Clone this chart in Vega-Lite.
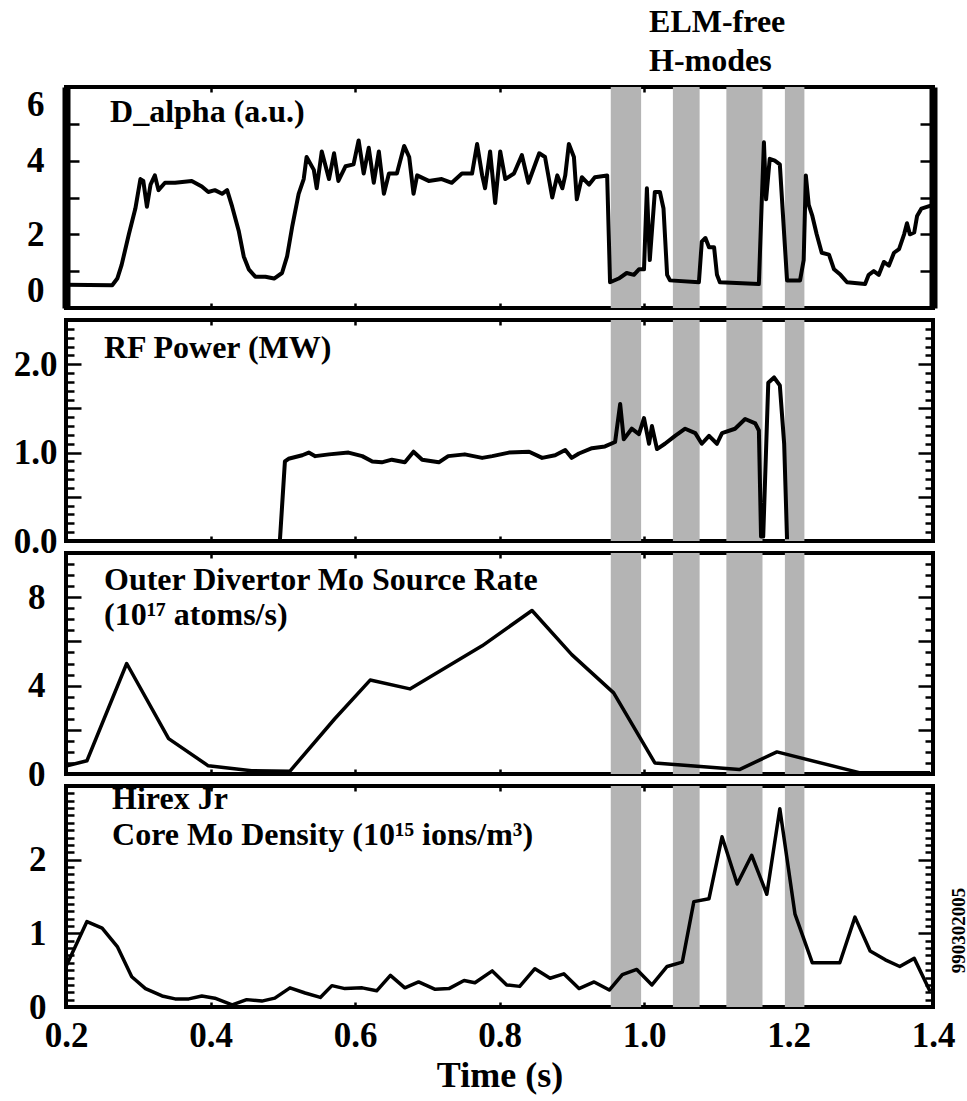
{
  "$schema": "https://vega.github.io/schema/vega-lite/v6.json",
  "padding": {"left": 4, "top": 3, "right": 0, "bottom": 0},
  "background": "white",
  "spacing": 12,
  "bounds": "flush",
  "config": {
    "view": {"stroke": "black", "strokeWidth": 4},
    "axis": {"labelFont": "Liberation Serif", "labelFontWeight": "bold", "labelColor": "black", "labelFontSize": 35, "tickColor": "black", "tickWidth": 2.5, "domain": false, "domainColor": "black", "grid": false, "labelOverlap": false, "labelFlush": false, "labelBound": false, "titleFont": "Liberation Serif", "titleFontWeight": "bold", "titleColor": "black", "titleFontSize": 36, "title": null}
  },
  "datasets": {
    "bands": [{"s": 0.954, "e": 0.996}, {"s": 1.04, "e": 1.077}, {"s": 1.114, "e": 1.164}, {"s": 1.195, "e": 1.222}],
    "dalpha": [
      {"t":0.2,"v":0.63},{"t":0.264,"v":0.62},{"t":0.271,"v":0.8},{"t":0.277,"v":1.17},{"t":0.287,"v":2.0},{"t":0.296,"v":2.7},{"t":0.303,"v":3.5},{"t":0.307,"v":3.45},{"t":0.312,"v":2.75},{"t":0.317,"v":3.35},{"t":0.323,"v":3.6},{"t":0.328,"v":3.2},{"t":0.337,"v":3.4},{"t":0.351,"v":3.4},{"t":0.374,"v":3.45},{"t":0.388,"v":3.3},{"t":0.397,"v":3.15},{"t":0.406,"v":3.2},{"t":0.416,"v":3.1},{"t":0.423,"v":3.2},{"t":0.43,"v":2.75},{"t":0.439,"v":2.1},{"t":0.446,"v":1.4},{"t":0.453,"v":1.05},{"t":0.462,"v":0.85},{"t":0.476,"v":0.85},{"t":0.488,"v":0.8},{"t":0.499,"v":0.95},{"t":0.506,"v":1.4},{"t":0.513,"v":2.2},{"t":0.522,"v":3.1},{"t":0.529,"v":3.5},{"t":0.533,"v":4.1},{"t":0.543,"v":3.75},{"t":0.547,"v":3.25},{"t":0.554,"v":4.25},{"t":0.564,"v":3.5},{"t":0.571,"v":4.2},{"t":0.577,"v":3.45},{"t":0.587,"v":3.85},{"t":0.598,"v":3.9},{"t":0.605,"v":4.55},{"t":0.612,"v":3.65},{"t":0.619,"v":4.35},{"t":0.626,"v":3.4},{"t":0.633,"v":4.25},{"t":0.64,"v":3.1},{"t":0.647,"v":3.65},{"t":0.658,"v":3.65},{"t":0.668,"v":4.4},{"t":0.675,"v":4.1},{"t":0.681,"v":3.1},{"t":0.686,"v":3.6},{"t":0.702,"v":3.45},{"t":0.72,"v":3.5},{"t":0.734,"v":3.4},{"t":0.748,"v":3.65},{"t":0.762,"v":3.65},{"t":0.769,"v":4.45},{"t":0.776,"v":3.6},{"t":0.78,"v":3.25},{"t":0.787,"v":4.25},{"t":0.794,"v":2.85},{"t":0.801,"v":4.25},{"t":0.808,"v":3.5},{"t":0.82,"v":3.65},{"t":0.831,"v":4.15},{"t":0.84,"v":3.4},{"t":0.855,"v":4.2},{"t":0.863,"v":4.1},{"t":0.873,"v":3.0},{"t":0.88,"v":3.6},{"t":0.887,"v":3.25},{"t":0.891,"v":3.6},{"t":0.896,"v":4.45},{"t":0.903,"v":4.1},{"t":0.907,"v":2.95},{"t":0.914,"v":3.55},{"t":0.924,"v":3.35},{"t":0.932,"v":3.55},{"t":0.949,"v":3.6},{"t":0.953,"v":0.7},{"t":0.965,"v":0.8},{"t":0.976,"v":0.95},{"t":0.986,"v":0.9},{"t":0.993,"v":1.05},{"t":1.0,"v":1.05},{"t":1.004,"v":3.25},{"t":1.008,"v":1.3},{"t":1.015,"v":3.15},{"t":1.022,"v":3.15},{"t":1.027,"v":2.7},{"t":1.032,"v":0.9},{"t":1.036,"v":0.75},{"t":1.076,"v":0.7},{"t":1.08,"v":1.8},{"t":1.085,"v":1.9},{"t":1.09,"v":1.65},{"t":1.097,"v":1.65},{"t":1.101,"v":0.9},{"t":1.105,"v":0.7},{"t":1.159,"v":0.65},{"t":1.163,"v":2.9},{"t":1.166,"v":4.5},{"t":1.169,"v":2.95},{"t":1.174,"v":4.05},{"t":1.181,"v":4.0},{"t":1.188,"v":3.9},{"t":1.194,"v":2.0},{"t":1.198,"v":0.75},{"t":1.216,"v":0.75},{"t":1.221,"v":1.3},{"t":1.224,"v":3.6},{"t":1.228,"v":2.8},{"t":1.233,"v":2.5},{"t":1.239,"v":2.0},{"t":1.246,"v":1.5},{"t":1.256,"v":1.45},{"t":1.263,"v":1.05},{"t":1.272,"v":0.9},{"t":1.281,"v":0.7},{"t":1.306,"v":0.65},{"t":1.311,"v":0.9},{"t":1.318,"v":1.0},{"t":1.325,"v":0.9},{"t":1.332,"v":1.25},{"t":1.339,"v":1.15},{"t":1.346,"v":1.5},{"t":1.353,"v":1.6},{"t":1.36,"v":2.0},{"t":1.364,"v":2.3},{"t":1.368,"v":2.0},{"t":1.374,"v":2.05},{"t":1.378,"v":2.5},{"t":1.384,"v":2.7},{"t":1.4,"v":2.8}
    ],
    "rf": [
      {"t":0.496,"v":0},{"t":0.503,"v":0.9},{"t":0.508,"v":0.93},{"t":0.527,"v":0.97},{"t":0.536,"v":1.0},{"t":0.545,"v":0.96},{"t":0.564,"v":0.98},{"t":0.591,"v":1.0},{"t":0.61,"v":0.96},{"t":0.624,"v":0.9},{"t":0.637,"v":0.89},{"t":0.651,"v":0.92},{"t":0.669,"v":0.89},{"t":0.681,"v":1.01},{"t":0.693,"v":0.92},{"t":0.716,"v":0.89},{"t":0.729,"v":0.96},{"t":0.752,"v":0.98},{"t":0.776,"v":0.94},{"t":0.79,"v":0.96},{"t":0.813,"v":1.0},{"t":0.841,"v":1.01},{"t":0.859,"v":0.94},{"t":0.877,"v":0.97},{"t":0.891,"v":1.03},{"t":0.9,"v":0.94},{"t":0.91,"v":0.99},{"t":0.928,"v":1.05},{"t":0.946,"v":1.07},{"t":0.96,"v":1.12},{"t":0.967,"v":1.55},{"t":0.972,"v":1.15},{"t":0.983,"v":1.27},{"t":0.993,"v":1.21},{"t":1.0,"v":1.39},{"t":1.007,"v":1.1},{"t":1.011,"v":1.3},{"t":1.018,"v":1.04},{"t":1.029,"v":1.1},{"t":1.043,"v":1.19},{"t":1.057,"v":1.27},{"t":1.071,"v":1.22},{"t":1.08,"v":1.1},{"t":1.09,"v":1.19},{"t":1.101,"v":1.1},{"t":1.108,"v":1.22},{"t":1.126,"v":1.27},{"t":1.14,"v":1.38},{"t":1.154,"v":1.33},{"t":1.159,"v":1.25},{"t":1.162,"v":0.05},{"t":1.165,"v":0.05},{"t":1.172,"v":1.79},{"t":1.18,"v":1.85},{"t":1.188,"v":1.76},{"t":1.194,"v":1.1},{"t":1.198,"v":0.02}
    ],
    "mo": [
      {"t":0.2,"v":0.36},{"t":0.229,"v":0.6},{"t":0.284,"v":5.0},{"t":0.342,"v":1.6},{"t":0.397,"v":0.37},{"t":0.457,"v":0.15},{"t":0.51,"v":0.13},{"t":0.572,"v":2.5},{"t":0.621,"v":4.25},{"t":0.676,"v":3.85},{"t":0.776,"v":5.8},{"t":0.845,"v":7.4},{"t":0.9,"v":5.4},{"t":0.958,"v":3.67},{"t":1.015,"v":0.5},{"t":1.132,"v":0.2},{"t":1.184,"v":1.0},{"t":1.298,"v":0.06},{"t":1.396,"v":0.06}
    ],
    "hirex": [
      {"t":0.2,"v":0.55},{"t":0.229,"v":1.16},{"t":0.25,"v":1.07},{"t":0.271,"v":0.82},{"t":0.291,"v":0.41},{"t":0.31,"v":0.25},{"t":0.333,"v":0.15},{"t":0.351,"v":0.11},{"t":0.37,"v":0.11},{"t":0.388,"v":0.15},{"t":0.406,"v":0.12},{"t":0.43,"v":0.03},{"t":0.45,"v":0.1},{"t":0.471,"v":0.08},{"t":0.489,"v":0.12},{"t":0.51,"v":0.26},{"t":0.531,"v":0.19},{"t":0.552,"v":0.13},{"t":0.568,"v":0.29},{"t":0.586,"v":0.25},{"t":0.61,"v":0.26},{"t":0.63,"v":0.22},{"t":0.649,"v":0.43},{"t":0.669,"v":0.26},{"t":0.688,"v":0.34},{"t":0.711,"v":0.24},{"t":0.73,"v":0.25},{"t":0.751,"v":0.36},{"t":0.766,"v":0.33},{"t":0.79,"v":0.49},{"t":0.81,"v":0.3},{"t":0.828,"v":0.28},{"t":0.849,"v":0.52},{"t":0.87,"v":0.39},{"t":0.889,"v":0.45},{"t":0.91,"v":0.25},{"t":0.931,"v":0.34},{"t":0.952,"v":0.23},{"t":0.97,"v":0.44},{"t":0.99,"v":0.51},{"t":1.011,"v":0.3},{"t":1.032,"v":0.55},{"t":1.053,"v":0.61},{"t":1.069,"v":1.43},{"t":1.09,"v":1.47},{"t":1.108,"v":2.31},{"t":1.129,"v":1.67},{"t":1.149,"v":2.06},{"t":1.17,"v":1.53},{"t":1.188,"v":2.69},{"t":1.209,"v":1.26},{"t":1.233,"v":0.6},{"t":1.271,"v":0.6},{"t":1.292,"v":1.22},{"t":1.313,"v":0.76},{"t":1.334,"v":0.64},{"t":1.354,"v":0.55},{"t":1.374,"v":0.66},{"t":1.396,"v":0.21}
    ],
    "lab1": [{"t":0.261,"v":5.04,"label":"D_alpha (a.u.)"},{"t":1.007,"v":7.5,"label":"ELM-free"},{"t":1.007,"v":6.44,"label":"H-modes"}],
    "lab2": [{"t":0.2526,"v":2.07,"label":"RF Power (MW)"}],
    "lab3": [{"t":0.2526,"v":8.32,"label":"Outer Divertor Mo Source Rate"},{"t":0.2526,"v":6.73,"label":"(10¹⁷ atoms/s)"}],
    "lab4": [{"t":0.2637,"v":2.69,"label":"Hirex Jr"},{"t":0.2637,"v":2.2,"label":"Core Mo Density (10¹⁵ ions/m³)"}],
    "shot": [{"t":1.436,"v":1.04,"label":"990302005"}]
  },
  "vconcat": [
    {
      "width": 867, "height": 221,
      "layer": [
        {"data": {"name": "bands"}, "mark": {"type": "rect", "color": "#b4b4b4"},
         "encoding": {"x": {"field": "s", "type": "quantitative", "scale": {"domain": [0.2, 1.4], "nice": false, "zero": false}, "axis": null}, "x2": {"field": "e"}}},
        {"data": {"name": "dalpha"}, "mark": {"type": "line", "color": "black", "strokeWidth": 4, "strokeJoin": "round"},
         "encoding": {
           "x": {"field": "t", "type": "quantitative", "scale": {"domain": [0.2, 1.4], "nice": false, "zero": false}, "axis": {"orient": "bottom", "values": [0.2,0.4,0.6,0.8,1.0,1.2,1.4], "labels": false, "tickSize": -5}},
           "y": {"field": "v", "type": "quantitative", "scale": {"domain": [0, 6], "nice": false, "zero": false}, "axis": {"orient": "left", "values": [0,2,4,6], "ticks": false, "tickSize": 0, "labelFlush": true, "labelPadding": 22, "domain": true, "domainWidth": 8, "minExtent": 60, "maxExtent": 60}}}},
        {"data": {"name": "dalpha"}, "mark": {"type": "line", "color": "black", "opacity": 0},
         "encoding": {
           "x": {"field": "t", "type": "quantitative", "scale": {"domain": [0.2, 1.4], "nice": false, "zero": false}, "axis": {"orient": "top", "values": [0.2,0.4,0.6,0.8,1.0,1.2,1.4], "labels": false, "tickSize": -5}},
           "y": {"field": "v", "type": "quantitative", "scale": {"domain": [0, 6], "nice": false, "zero": false}, "axis": {"orient": "left", "values": [0,1,2,3,4,5,6], "labels": false, "tickSize": -13}}}},
        {"data": {"name": "dalpha"}, "mark": {"type": "line", "color": "black", "opacity": 0},
         "encoding": {
           "x": {"field": "t", "type": "quantitative", "scale": {"domain": [0.2, 1.4], "nice": false, "zero": false}, "axis": null},
           "y": {"field": "v", "type": "quantitative", "scale": {"domain": [0, 6], "nice": false, "zero": false}, "axis": {"orient": "right", "values": [0,1,2,3,4,5,6], "labels": false, "tickSize": -13, "domain": true, "domainWidth": 8}}}},
        {"data": {"name": "lab1"}, "mark": {"type": "text", "align": "left", "baseline": "alphabetic", "font": "Liberation Serif", "fontWeight": "bold", "fontSize": 32, "color": "black"},
         "encoding": {
           "x": {"field": "t", "type": "quantitative", "scale": {"domain": [0.2, 1.4], "nice": false, "zero": false}, "axis": null},
           "y": {"field": "v", "type": "quantitative", "scale": {"domain": [0, 6], "nice": false, "zero": false}, "axis": null},
           "text": {"field": "label"}}}
      ],
      "resolve": {"axis": {"x": "independent", "y": "independent"}}
    },
    {
      "width": 867, "height": 221,
      "layer": [
        {"data": {"name": "bands"}, "mark": {"type": "rect", "color": "#b4b4b4"},
         "encoding": {"x": {"field": "s", "type": "quantitative", "scale": {"domain": [0.2, 1.4], "nice": false, "zero": false}, "axis": null}, "x2": {"field": "e"}}},
        {"data": {"name": "rf"}, "mark": {"type": "line", "color": "black", "strokeWidth": 4, "strokeJoin": "round"},
         "encoding": {
           "x": {"field": "t", "type": "quantitative", "scale": {"domain": [0.2, 1.4], "nice": false, "zero": false}, "axis": {"orient": "bottom", "values": [0.2,0.4,0.6,0.8,1.0,1.2,1.4], "labels": false, "tickSize": -5}},
           "y": {"field": "v", "type": "quantitative", "scale": {"domain": [0, 2.5], "nice": false, "zero": false}, "axis": {"orient": "left", "values": [0,1,2], "format": ".1f", "ticks": false, "tickSize": 0, "labelPadding": 9, "minExtent": 60, "maxExtent": 60}}}},
        {"data": {"name": "rf"}, "mark": {"type": "line", "color": "black", "opacity": 0},
         "encoding": {
           "x": {"field": "t", "type": "quantitative", "scale": {"domain": [0.2, 1.4], "nice": false, "zero": false}, "axis": {"orient": "top", "values": [0.2,0.4,0.6,0.8,1.0,1.2,1.4], "labels": false, "tickSize": -5}},
           "y": {"field": "v", "type": "quantitative", "scale": {"domain": [0, 2.5], "nice": false, "zero": false}, "axis": {"orient": "left", "values": [0,0.5,1,1.5,2,2.5], "labels": false, "tickSize": -15}}}},
        {"data": {"name": "rf"}, "mark": {"type": "line", "color": "black", "opacity": 0},
         "encoding": {
           "x": {"field": "t", "type": "quantitative", "scale": {"domain": [0.2, 1.4], "nice": false, "zero": false}, "axis": null},
           "y": {"field": "v", "type": "quantitative", "scale": {"domain": [0, 2.5], "nice": false, "zero": false}, "axis": {"orient": "left", "values": [0.1,0.2,0.3,0.4,0.6,0.7,0.8,0.9,1.1,1.2,1.3,1.4,1.6,1.7,1.8,1.9,2.1,2.2,2.3,2.4], "labels": false, "tickSize": -8}}}},
        {"data": {"name": "rf"}, "mark": {"type": "line", "color": "black", "opacity": 0},
         "encoding": {
           "x": {"field": "t", "type": "quantitative", "scale": {"domain": [0.2, 1.4], "nice": false, "zero": false}, "axis": null},
           "y": {"field": "v", "type": "quantitative", "scale": {"domain": [0, 2.5], "nice": false, "zero": false}, "axis": {"orient": "right", "values": [0,0.5,1,1.5,2,2.5], "labels": false, "tickSize": -15}}}},
        {"data": {"name": "rf"}, "mark": {"type": "line", "color": "black", "opacity": 0},
         "encoding": {
           "x": {"field": "t", "type": "quantitative", "scale": {"domain": [0.2, 1.4], "nice": false, "zero": false}, "axis": null},
           "y": {"field": "v", "type": "quantitative", "scale": {"domain": [0, 2.5], "nice": false, "zero": false}, "axis": {"orient": "right", "values": [0.1,0.2,0.3,0.4,0.6,0.7,0.8,0.9,1.1,1.2,1.3,1.4,1.6,1.7,1.8,1.9,2.1,2.2,2.3,2.4], "labels": false, "tickSize": -8}}}},
        {"data": {"name": "lab2"}, "mark": {"type": "text", "align": "left", "baseline": "alphabetic", "font": "Liberation Serif", "fontWeight": "bold", "fontSize": 32, "color": "black"},
         "encoding": {
           "x": {"field": "t", "type": "quantitative", "scale": {"domain": [0.2, 1.4], "nice": false, "zero": false}, "axis": null},
           "y": {"field": "v", "type": "quantitative", "scale": {"domain": [0, 2.5], "nice": false, "zero": false}, "axis": null},
           "text": {"field": "label"}}}
      ],
      "resolve": {"axis": {"x": "independent", "y": "independent"}}
    },
    {
      "width": 867, "height": 221,
      "layer": [
        {"data": {"name": "bands"}, "mark": {"type": "rect", "color": "#b4b4b4"},
         "encoding": {"x": {"field": "s", "type": "quantitative", "scale": {"domain": [0.2, 1.4], "nice": false, "zero": false}, "axis": null}, "x2": {"field": "e"}}},
        {"data": {"name": "mo"}, "mark": {"type": "line", "color": "black", "strokeWidth": 3.5, "strokeJoin": "round"},
         "encoding": {
           "x": {"field": "t", "type": "quantitative", "scale": {"domain": [0.2, 1.4], "nice": false, "zero": false}, "axis": {"orient": "bottom", "values": [0.2,0.4,0.6,0.8,1.0,1.2,1.4], "labels": false, "tickSize": -5}},
           "y": {"field": "v", "type": "quantitative", "scale": {"domain": [0, 10], "nice": false, "zero": false}, "axis": {"orient": "left", "values": [0,4,8], "format": "d", "ticks": false, "tickSize": 0, "labelPadding": 21, "minExtent": 60, "maxExtent": 60}}}},
        {"data": {"name": "mo"}, "mark": {"type": "line", "color": "black", "opacity": 0},
         "encoding": {
           "x": {"field": "t", "type": "quantitative", "scale": {"domain": [0.2, 1.4], "nice": false, "zero": false}, "axis": {"orient": "top", "values": [0.2,0.4,0.6,0.8,1.0,1.2,1.4], "labels": false, "tickSize": -5}},
           "y": {"field": "v", "type": "quantitative", "scale": {"domain": [0, 10], "nice": false, "zero": false}, "axis": {"orient": "left", "values": [0,2,4,6,8,10], "labels": false, "tickSize": -15}}}},
        {"data": {"name": "mo"}, "mark": {"type": "line", "color": "black", "opacity": 0},
         "encoding": {
           "x": {"field": "t", "type": "quantitative", "scale": {"domain": [0.2, 1.4], "nice": false, "zero": false}, "axis": null},
           "y": {"field": "v", "type": "quantitative", "scale": {"domain": [0, 10], "nice": false, "zero": false}, "axis": {"orient": "left", "values": [0.5,1,1.5,2.5,3,3.5,4.5,5,5.5,6.5,7,7.5,8.5,9,9.5], "labels": false, "tickSize": -8}}}},
        {"data": {"name": "mo"}, "mark": {"type": "line", "color": "black", "opacity": 0},
         "encoding": {
           "x": {"field": "t", "type": "quantitative", "scale": {"domain": [0.2, 1.4], "nice": false, "zero": false}, "axis": null},
           "y": {"field": "v", "type": "quantitative", "scale": {"domain": [0, 10], "nice": false, "zero": false}, "axis": {"orient": "right", "values": [0,2,4,6,8,10], "labels": false, "tickSize": -15}}}},
        {"data": {"name": "mo"}, "mark": {"type": "line", "color": "black", "opacity": 0},
         "encoding": {
           "x": {"field": "t", "type": "quantitative", "scale": {"domain": [0.2, 1.4], "nice": false, "zero": false}, "axis": null},
           "y": {"field": "v", "type": "quantitative", "scale": {"domain": [0, 10], "nice": false, "zero": false}, "axis": {"orient": "right", "values": [0.5,1,1.5,2.5,3,3.5,4.5,5,5.5,6.5,7,7.5,8.5,9,9.5], "labels": false, "tickSize": -8}}}},
        {"data": {"name": "lab3"}, "mark": {"type": "text", "align": "left", "baseline": "alphabetic", "font": "Liberation Serif", "fontWeight": "bold", "fontSize": 32, "color": "black"},
         "encoding": {
           "x": {"field": "t", "type": "quantitative", "scale": {"domain": [0.2, 1.4], "nice": false, "zero": false}, "axis": null},
           "y": {"field": "v", "type": "quantitative", "scale": {"domain": [0, 10], "nice": false, "zero": false}, "axis": null},
           "text": {"field": "label"}}}
      ],
      "resolve": {"axis": {"x": "independent", "y": "independent"}}
    },
    {
      "width": 867, "height": 221,
      "layer": [
        {"data": {"name": "bands"}, "mark": {"type": "rect", "color": "#b4b4b4"},
         "encoding": {"x": {"field": "s", "type": "quantitative", "scale": {"domain": [0.2, 1.4], "nice": false, "zero": false}, "axis": null}, "x2": {"field": "e"}}},
        {"data": {"name": "hirex"}, "mark": {"type": "line", "color": "black", "strokeWidth": 3.5, "strokeJoin": "round"},
         "encoding": {
           "x": {"field": "t", "type": "quantitative", "scale": {"domain": [0.2, 1.4], "nice": false, "zero": false}, "axis": {"orient": "bottom", "values": [0.2,0.4,0.6,0.8,1.0,1.2,1.4], "format": ".1f", "tickSize": -5, "labelPadding": 16, "title": "Time (s)", "titlePadding": 5}},
           "y": {"field": "v", "type": "quantitative", "scale": {"domain": [0, 3], "nice": false, "zero": false}, "axis": {"orient": "left", "values": [0,1,2], "format": "d", "ticks": false, "tickSize": 0, "labelPadding": 20, "minExtent": 60, "maxExtent": 60}}}},
        {"data": {"name": "hirex"}, "mark": {"type": "line", "color": "black", "opacity": 0},
         "encoding": {
           "x": {"field": "t", "type": "quantitative", "scale": {"domain": [0.2, 1.4], "nice": false, "zero": false}, "axis": {"orient": "top", "values": [0.2,0.4,0.6,0.8,1.0,1.2,1.4], "labels": false, "tickSize": -5}},
           "y": {"field": "v", "type": "quantitative", "scale": {"domain": [0, 3], "nice": false, "zero": false}, "axis": {"orient": "left", "values": [0,1,2,3], "labels": false, "tickSize": -15}}}},
        {"data": {"name": "hirex"}, "mark": {"type": "line", "color": "black", "opacity": 0},
         "encoding": {
           "x": {"field": "t", "type": "quantitative", "scale": {"domain": [0.2, 1.4], "nice": false, "zero": false}, "axis": null},
           "y": {"field": "v", "type": "quantitative", "scale": {"domain": [0, 3], "nice": false, "zero": false}, "axis": {"orient": "left", "values": [0.1,0.2,0.3,0.4,0.5,0.6,0.7,0.8,0.9,1.1,1.2,1.3,1.4,1.5,1.6,1.7,1.8,1.9,2.1,2.2,2.3,2.4,2.5,2.6,2.7,2.8,2.9], "labels": false, "tickSize": -8}}}},
        {"data": {"name": "hirex"}, "mark": {"type": "line", "color": "black", "opacity": 0},
         "encoding": {
           "x": {"field": "t", "type": "quantitative", "scale": {"domain": [0.2, 1.4], "nice": false, "zero": false}, "axis": null},
           "y": {"field": "v", "type": "quantitative", "scale": {"domain": [0, 3], "nice": false, "zero": false}, "axis": {"orient": "right", "values": [0,1,2,3], "labels": false, "tickSize": -15}}}},
        {"data": {"name": "hirex"}, "mark": {"type": "line", "color": "black", "opacity": 0},
         "encoding": {
           "x": {"field": "t", "type": "quantitative", "scale": {"domain": [0.2, 1.4], "nice": false, "zero": false}, "axis": null},
           "y": {"field": "v", "type": "quantitative", "scale": {"domain": [0, 3], "nice": false, "zero": false}, "axis": {"orient": "right", "values": [0.1,0.2,0.3,0.4,0.5,0.6,0.7,0.8,0.9,1.1,1.2,1.3,1.4,1.5,1.6,1.7,1.8,1.9,2.1,2.2,2.3,2.4,2.5,2.6,2.7,2.8,2.9], "labels": false, "tickSize": -8}}}},
        {"data": {"name": "lab4"}, "mark": {"type": "text", "align": "left", "baseline": "alphabetic", "font": "Liberation Serif", "fontWeight": "bold", "fontSize": 32, "color": "black"},
         "encoding": {
           "x": {"field": "t", "type": "quantitative", "scale": {"domain": [0.2, 1.4], "nice": false, "zero": false}, "axis": null},
           "y": {"field": "v", "type": "quantitative", "scale": {"domain": [0, 3], "nice": false, "zero": false}, "axis": null},
           "text": {"field": "label"}}},
        {"data": {"name": "shot"}, "mark": {"type": "text", "align": "center", "baseline": "middle", "angle": 270, "font": "Liberation Serif", "fontWeight": "bold", "fontSize": 19, "color": "black"},
         "encoding": {
           "x": {"field": "t", "type": "quantitative", "scale": {"domain": [0.2, 1.4], "nice": false, "zero": false}, "axis": null},
           "y": {"field": "v", "type": "quantitative", "scale": {"domain": [0, 3], "nice": false, "zero": false}, "axis": null},
           "text": {"field": "label"}}}
      ],
      "resolve": {"axis": {"x": "independent", "y": "independent"}}
    }
  ]
}
